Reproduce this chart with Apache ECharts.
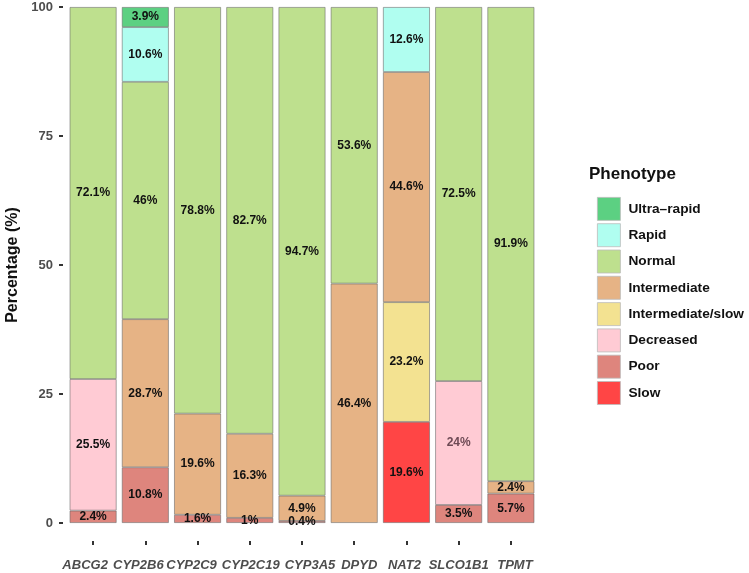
<!DOCTYPE html>
<html><head><meta charset="utf-8">
<script src="https://cdn.jsdelivr.net/npm/echarts@6/dist/echarts.min.js"></script>
<style>html,body{margin:0;padding:0;background:#fff}#c{width:749px;height:573px}</style>
</head><body><div id="c"></div>
<script>
const genes = ['ABCG2','CYP2B6','CYP2C9','CYP2C19','CYP3A5','DPYD','NAT2','SLCO1B1','TPMT'];
const yTicks = [0,25,50,75,100];
// stacked bottom -> top
const slow            = [null, null, null, null, null, null, 19.6, null, null];
const poor            = [2.4, 10.8, 1.6, 1, 0.4, null, null, 3.5, 5.7];
const decreased       = [25.5, null, null, null, null, null, null, 24, null];
const intermediateSlow= [null, null, null, null, null, null, 23.2, null, null];
const intermediate    = [null, 28.7, 19.6, 16.3, 4.9, 46.4, 44.6, null, 2.4];
const normal          = [72.1, 46, 78.8, 82.7, 94.7, 53.6, null, 72.5, 91.9];
const rapid           = [null, 10.6, null, null, null, null, 12.6, null, null];
const ultraRapid      = [null, 3.9, null, null, null, null, null, null, null];

const seriesDefs = [
  ['Slow', slow, '#FF4545'],
  ['Poor', poor, '#DE857D'],
  ['Decreased', decreased, '#FFCBD4'],
  ['Intermediate/slow', intermediateSlow, '#F3E291'],
  ['Intermediate', intermediate, '#E6B385'],
  ['Normal', normal, '#BEE08E'],
  ['Rapid', rapid, '#B0FEF0'],
  ['Ultra\u2013rapid', ultraRapid, '#5CD082']
];
const legendOrder = ['Ultra\u2013rapid','Rapid','Normal','Intermediate','Intermediate/slow','Decreased','Poor','Slow'];

const font = 'Liberation Sans, Arial, Helvetica, sans-serif';
// small per-label horizontal nudges (style only) so the tick labels do not collide, as in the reference
const labelNudge = [-8, -7, -6, 1, 8, 5, -2, 0, 4];
const labelRich = {};
labelNudge.forEach((d, i) => {
  labelRich['s' + i] = {
    fontSize: 13, fontStyle: 'italic', fontWeight: 'bold', color: '#4d4d4d', fontFamily: font,
    padding: d >= 0 ? [0, 0, 0, 2 * d] : [0, -2 * d, 0, 0]
  };
});

const chart = echarts.init(document.getElementById('c'));
chart.setOption({
  animation: false,
  textStyle: {fontFamily: font},
  grid: [
    {left: 67, right: 212, top: 7, bottom: 50, containLabel: false, outerBoundsMode: 'none'},
    {left: 67, right: 212, top: 541, height: 0, containLabel: false, outerBoundsMode: 'none'}
  ],
  title: {text: 'Phenotype', left: 589, top: 166, padding: 0, textStyle: {fontSize: 17, fontWeight: 'bold', color: '#111', fontFamily: font}},
  legend: {
    orient: 'vertical', left: 597, top: 197, padding: 0, itemWidth: 23, itemHeight: 23, itemGap: 2.5,
    icon: 'rect', data: legendOrder,
    textStyle: {fontSize: 13.7, fontWeight: 'bold', color: '#111', padding: [0,0,0,3], fontFamily: font},
    itemStyle: {borderColor: '#bbb', borderWidth: 0.8}
  },
  xAxis: [
    {
      type: 'category', data: genes, gridIndex: 0,
      axisLine: {show: false}, axisTick: {show: false}, axisLabel: {show: false}
    },
    {
      type: 'category', data: genes, gridIndex: 1, position: 'bottom',
      axisLine: {show: false},
      axisTick: {show: true, length: 4, alignWithLabel: true, interval: 0, lineStyle: {color: '#333', width: 2}},
      axisLabel: {margin: 18, interval: 0, fontSize: 13, fontFamily: font,
        formatter: (v, i) => '{s' + i + '|' + v + '}', rich: labelRich}
    }
  ],
  yAxis: [
    {
      type: 'value', min: 0, max: 100, interval: 25, offset: 4, gridIndex: 0,
      name: 'Percentage (%)', nameLocation: 'middle', nameGap: 42,
      nameTextStyle: {fontSize: 16, fontWeight: 'bold', color: '#111', fontFamily: font},
      axisLine: {show: false},
      axisTick: {show: true, length: 4, lineStyle: {color: '#333', width: 2}},
      splitLine: {show: false},
      axisLabel: {margin: 10, fontSize: 13, fontWeight: 'bold', color: '#4d4d4d', fontFamily: font,
        formatter: v => yTicks.includes(v) ? String(v) : ''}
    },
    {type: 'value', gridIndex: 1, show: false}
  ],
  series: seriesDefs.map(([name, data, color]) => ({
    name, type: 'bar', stack: 'all', data, barCategoryGap: '10%', xAxisIndex: 0, yAxisIndex: 0,
    itemStyle: {color, borderColor: 'rgba(100,100,100,0.7)', borderWidth: 0.8},
    label: {
      show: true, position: 'inside', fontSize: 12, fontWeight: 'bold',
      color: '#111', fontFamily: font,
      formatter: p => {
        if (p.value == null) return '';
        if (name === 'Decreased' && p.name === 'SLCO1B1') return '{m|' + p.value + '%}';
        return p.value + '%';
      },
      rich: {m: {color: '#6e4a55', fontSize: 12, fontWeight: 'bold', fontFamily: font}}
    }
  }))
});
</script></body></html>
